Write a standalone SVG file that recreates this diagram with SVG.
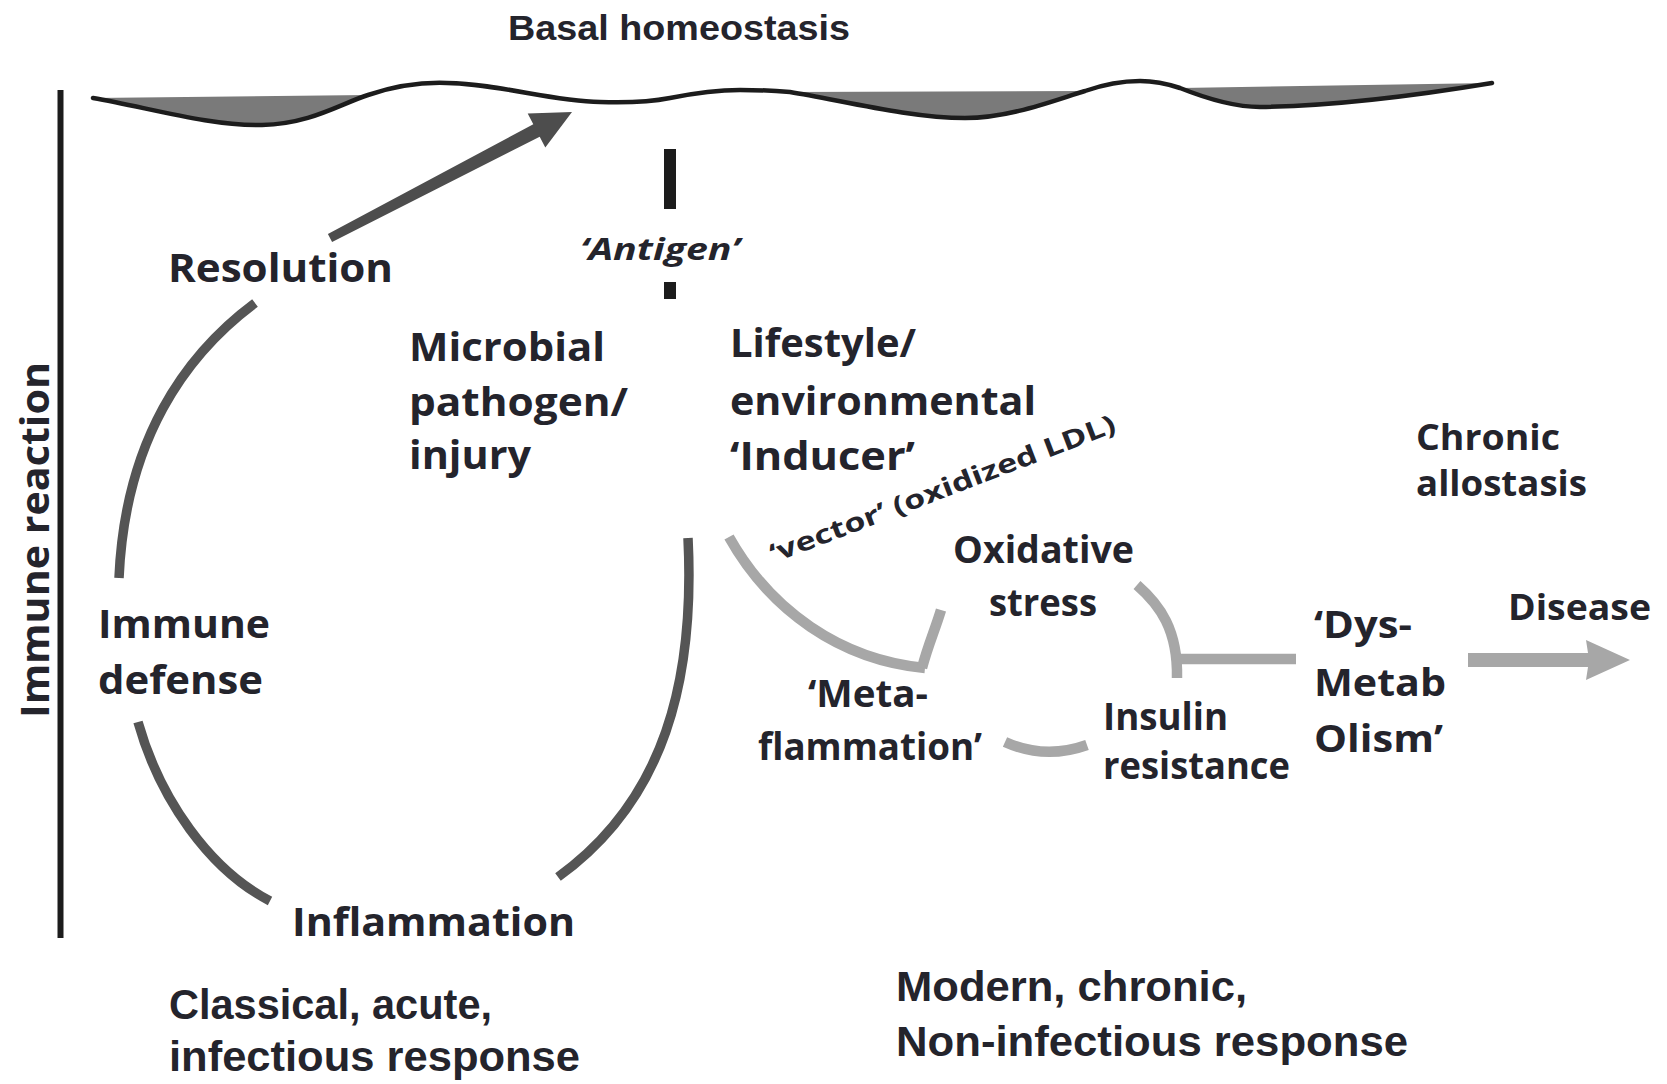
<svg xmlns="http://www.w3.org/2000/svg" width="1667" height="1084" viewBox="0 0 1667 1084">
<style>
.t{font-family:"Open Sans","Liberation Sans",sans-serif;font-weight:700;fill:#24242c;}
.c{font-family:"Liberation Sans Narrow","Liberation Sans",sans-serif;font-weight:700;fill:#24242c;}
.dark{fill:none;stroke:#555;stroke-width:9.5;stroke-linecap:butt;}
.light{fill:none;stroke:#a7a7a7;stroke-width:10.5;stroke-linecap:butt;}
</style>
<rect width="1667" height="1084" fill="#fff"/>
<g id="axis">
<line x1="60.5" y1="90" x2="60.5" y2="938" stroke="#1c1c1c" stroke-width="6"/>
<text class="t" font-size="40" transform="translate(49,718) rotate(-90)" textLength="356" lengthAdjust="spacingAndGlyphs">Immune reaction</text>
</g>
<g id="basal-homeostasis">
<path d="M93 98 C150 108 210 126 262 125 C310 124 340 104 368 95 Z" fill="#7a7a7a"/>
<path d="M790 92 C840 100 910 118 965 118 C1010 118 1055 100 1085 91 Z" fill="#7a7a7a"/>
<path d="M1180 88 C1210 100 1235 107 1260 107 C1340 106 1420 95 1492 83 Z" fill="#7a7a7a"/>
<path d="M93 98 C150 108 210 126 262 125 C310 124 340 104 368 95 C395 86 420 82 447 83 C500 84 550 101 600 102 C630 103 650 102 670 98 C695 93 715 90 740 90 C765 90 778 91 790 92 C840 100 910 118 965 118 C1010 118 1055 100 1085 91 C1105 84 1125 81 1140 81 C1155 81 1168 84 1180 88 C1210 100 1235 107 1260 107 C1340 106 1420 95 1492 83" fill="none" stroke="#1c1c1c" stroke-width="4.5" stroke-linecap="round"/>
<text class="c" font-size="35" x="508" y="40" textLength="342" lengthAdjust="spacingAndGlyphs">Basal homeostasis</text>
</g>
<g id="antigen">
<rect x="664" y="149" width="12" height="60" fill="#1c1c1c"/>
<rect x="664" y="282" width="12" height="17" fill="#1c1c1c"/>
<text class="t" font-size="31" font-style="italic" x="580" y="260" textLength="160" lengthAdjust="spacingAndGlyphs">‘Antigen’</text>
</g>
<g id="resolution"><text class="t" font-size="40" x="168" y="282" textLength="225" lengthAdjust="spacingAndGlyphs">Resolution</text></g>
<g id="microbial">
<text class="t" font-size="40" x="409" y="361" textLength="196" lengthAdjust="spacingAndGlyphs">Microbial</text>
<text class="t" font-size="40" x="409" y="416" textLength="219" lengthAdjust="spacingAndGlyphs">pathogen/</text>
<text class="t" font-size="40" x="409" y="469" textLength="122" lengthAdjust="spacingAndGlyphs">injury</text>
</g>
<g id="lifestyle">
<text class="t" font-size="40" x="730" y="357" textLength="186" lengthAdjust="spacingAndGlyphs">Lifestyle/</text>
<text class="t" font-size="40" x="730" y="415" textLength="306" lengthAdjust="spacingAndGlyphs">environmental</text>
<text class="t" font-size="40" x="730" y="470" textLength="185" lengthAdjust="spacingAndGlyphs">‘Inducer’</text>
</g>
<g id="vector"><text class="t" font-size="26" transform="translate(774,563) rotate(-21)" textLength="368" lengthAdjust="spacingAndGlyphs">‘vector’ (oxidized LDL)</text></g>
<g id="chronic-allostasis">
<text class="t" font-size="36" x="1416" y="450" textLength="144" lengthAdjust="spacingAndGlyphs">Chronic</text>
<text class="t" font-size="36" x="1416" y="496" textLength="171" lengthAdjust="spacingAndGlyphs">allostasis</text>
</g>
<g id="oxidative-stress">
<text class="t" font-size="38" x="953" y="563" textLength="181" lengthAdjust="spacingAndGlyphs">Oxidative</text>
<text class="t" font-size="38" x="989" y="616" textLength="108" lengthAdjust="spacingAndGlyphs">stress</text>
</g>
<g id="metaflammation">
<text class="t" font-size="38" x="808" y="707" textLength="120" lengthAdjust="spacingAndGlyphs">‘Meta-</text>
<text class="t" font-size="38" x="758" y="760" textLength="224" lengthAdjust="spacingAndGlyphs">flammation’</text>
</g>
<g id="insulin-resistance">
<text class="t" font-size="38" x="1103" y="730" textLength="125" lengthAdjust="spacingAndGlyphs">Insulin</text>
<text class="t" font-size="38" x="1103" y="779" textLength="187" lengthAdjust="spacingAndGlyphs">resistance</text>
</g>
<g id="dysmetabolism">
<text class="t" font-size="38" x="1314" y="638" textLength="98" lengthAdjust="spacingAndGlyphs">‘Dys-</text>
<text class="t" font-size="38" x="1314" y="696" textLength="132" lengthAdjust="spacingAndGlyphs">Metab</text>
<text class="t" font-size="38" x="1314" y="752" textLength="129" lengthAdjust="spacingAndGlyphs">Olism’</text>
</g>
<g id="disease"><text class="t" font-size="36" x="1508" y="620" textLength="143" lengthAdjust="spacingAndGlyphs">Disease</text></g>
<g id="immune-defense">
<text class="t" font-size="40" x="98" y="638" textLength="172" lengthAdjust="spacingAndGlyphs">Immune</text>
<text class="t" font-size="40" x="98" y="694" textLength="165" lengthAdjust="spacingAndGlyphs">defense</text>
</g>
<g id="inflammation"><text class="t" font-size="40" x="292" y="936" textLength="283" lengthAdjust="spacingAndGlyphs">Inflammation</text></g>
<g id="classical">
<text class="c" font-size="42" x="169" y="1019" textLength="323" lengthAdjust="spacingAndGlyphs">Classical, acute,</text>
<text class="c" font-size="42" x="169" y="1071" textLength="411" lengthAdjust="spacingAndGlyphs">infectious response</text>
</g>
<g id="modern">
<text class="c" font-size="42" x="896" y="1001" textLength="351" lengthAdjust="spacingAndGlyphs">Modern, chronic,</text>
<text class="c" font-size="42" x="896" y="1056" textLength="512" lengthAdjust="spacingAndGlyphs">Non-infectious response</text>
</g>
<g id="connectors">
<path d="M327.9 234 L533.3 124.3 L527.7 113.6 L572 112 L545.3 147.4 L539.7 136.7 L332.1 242 Z" fill="#4d4d4d"/>
<path class="dark" d="M255 303 C185 355 125 440 119 578"/>
<path class="dark" d="M138 722 C160 800 210 870 270 901"/>
<path class="dark" d="M688 538 C695 680 665 800 558 877"/>
<path class="light" d="M729 537 C770 610 840 660 925 668"/>
<path class="light" d="M922 668 C928 645 935 630 941 610"/>
<path class="light" d="M1137 585 C1160 605 1178 630 1177 678"/>
<path class="light" d="M1177 659 L1296 659"/>
<path class="light" d="M1005 742 Q1045 760 1087 745"/>
<path d="M1468 653 L1588 653 L1586 640 L1630 660 L1586 680 L1588 667 L1468 667 Z" fill="#a7a7a7"/>
</g>
</svg>
